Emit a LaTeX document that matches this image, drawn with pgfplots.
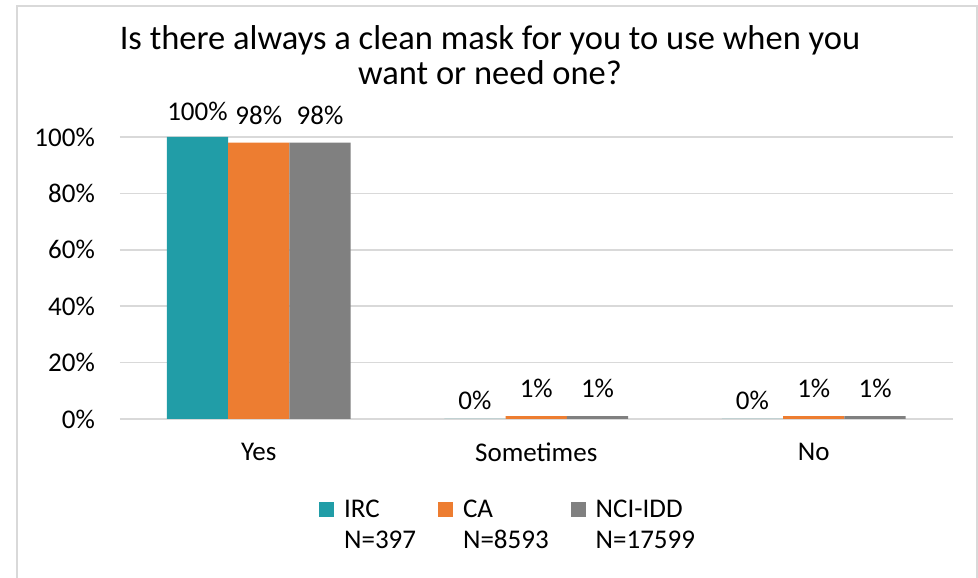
\documentclass[border=0pt]{standalone}
\usepackage{pgfplots}
\pgfplotsset{compat=1.18}
\usepackage{fontspec}
\setmainfont{Carlito}
\definecolor{cteal}{RGB}{33,157,167}
\definecolor{corange}{RGB}{237,125,49}
\definecolor{cgray}{RGB}{128,128,128}
\definecolor{cgrid}{RGB}{217,217,217}
\newcommand{\lbl}{\fontsize{27}{31}\selectfont}
\newcommand{\legtxt}[2]{\raisebox{0pt}[17pt][0pt]{\begin{tabular}[t]{@{}l@{}}#1\\#2\end{tabular}}}
\begin{document}
\begin{tikzpicture}
\begin{axis}[
  name=ax, at={(0pt,0pt)}, anchor=south west,
  scale only axis, width=832.5pt, height=282pt,
  ybar=0pt, bar width=61.3pt,
  xmin=-0.5, xmax=2.5, ymin=0, ymax=100,
  xtick={0,1,2}, xticklabels={Yes,Sometimes,No},
  ytick={0,20,40,60,80,100},
  /pgf/number format/assume math mode=true,
  yticklabel={\pgfmathprintnumber{\tick}\%},
  axis line style={draw=none},
  major tick length=0pt, tick style={draw=none},
  ymajorgrids, grid style={draw=cgrid, line width=1.5pt},
  tick label style={font=\lbl},
  yticklabel style={anchor=east, inner sep=0pt, xshift=-25pt},
  xticklabel style={anchor=north, inner sep=0pt, yshift=-24pt},
  point meta=rawy,
  nodes near coords={\pgfmathprintnumber{\pgfplotspointmeta}\%},
  every node near coord/.append style={font=\lbl, inner sep=0pt, anchor=south, text=black},
  clip=false,
  legend columns=3,
  legend style={at={(rel axis cs:0.2390,-0.321)}, anchor=west, draw=none, fill=none,
    inner sep=0pt, font=\lbl, cells={anchor=west},
    /tikz/every odd column/.append style={column sep=8pt},
    /tikz/every even column/.append style={column sep=20pt}},
]
\addplot[fill=cteal, draw=none,
  visualization depends on={rawy \as \ry},
  every node near coord/.append style={yshift={9+0.07*\ry}},
  legend image code/.code={\fill[cteal] (0pt,-7.5pt) rectangle (15pt,7.5pt);}]
  coordinates {(0,100) (1,0) (2,0)};
\addlegendentry{\legtxt{IRC}{N=397}}
\addplot[fill=corange, draw=none,
  every node near coord/.append style={yshift=18pt},
  legend image code/.code={\fill[corange] (0pt,-7.5pt) rectangle (15pt,7.5pt);}]
  coordinates {(0,98) (1,1) (2,1)};
\addlegendentry{\legtxt{CA}{N=8593}}
\addplot[fill=cgray, draw=none,
  every node near coord/.append style={yshift=18pt},
  legend image code/.code={\fill[cgray] (0pt,-7.5pt) rectangle (15pt,7.5pt);}]
  coordinates {(0,98) (1,1) (2,1)};
\addlegendentry{\legtxt{NCI-IDD}{N=17599}}
\end{axis}
\node[font=\fontsize{34.5}{36}\selectfont, anchor=base] at (370pt,369pt) {Is there always a clean mask for you to use when you};
\node[font=\fontsize{34.5}{36}\selectfont, anchor=base] at (370pt,334pt) {want or need one?};
\draw[cgrid, line width=1.5pt] (-103pt,-170pt) -- (-103pt,413pt) -- (857pt,413pt) -- (857pt,-170pt);
\pgfresetboundingbox
\path[use as bounding box] (-120pt,-159pt) rectangle (858pt,419pt);
\end{tikzpicture}
\end{document}
